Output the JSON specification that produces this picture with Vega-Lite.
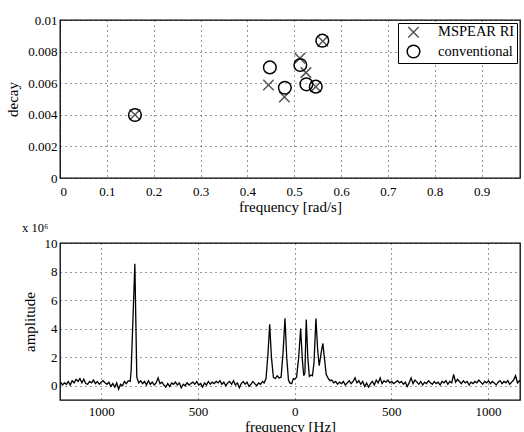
{
 "$schema": "https://vega.github.io/schema/vega-lite/v6.json",
 "padding": {"left": 5, "top": 13, "right": 0, "bottom": 0},
 "spacing": 5,
 "config": {
   "font": "Liberation Serif",
   "view": {"stroke": "black", "strokeWidth": 1.3},
   "axis": {"grid": true, "gridColor": "black", "gridDash": [1, 4], "gridOpacity": 0.8, "gridWidth": 1, "ticks": false, "domain": false, "labelFont": "Liberation Serif", "labelFontSize": 13, "labelColor": "black", "titleFont": "Liberation Serif", "titleFontSize": 15, "titleFontWeight": "normal", "titleColor": "black", "labelPadding": 4, "titlePadding": 1},
   "axisY": {"titlePadding": 7, "labelPadding": 3},
   "legend": {"labelFont": "Liberation Serif", "labelFontSize": 14.5, "labelColor": "black"}
 },
 "vconcat": [
  {
   "width": 460, "height": 158,
   "data": {"values": [
     {"method": "MSPEAR RI", "freq": 0.160, "decay": 0.00400},
     {"method": "MSPEAR RI", "freq": 0.445, "decay": 0.00589},
     {"method": "MSPEAR RI", "freq": 0.479, "decay": 0.00513},
     {"method": "MSPEAR RI", "freq": 0.512, "decay": 0.00758},
     {"method": "MSPEAR RI", "freq": 0.525, "decay": 0.00667},
     {"method": "MSPEAR RI", "freq": 0.546, "decay": 0.00578},
     {"method": "MSPEAR RI", "freq": 0.561, "decay": 0.00866},
     {"method": "conventional", "freq": 0.160, "decay": 0.00399},
     {"method": "conventional", "freq": 0.448, "decay": 0.00700},
     {"method": "conventional", "freq": 0.480, "decay": 0.00571},
     {"method": "conventional", "freq": 0.513, "decay": 0.00715},
     {"method": "conventional", "freq": 0.526, "decay": 0.00593},
     {"method": "conventional", "freq": 0.546, "decay": 0.00578},
     {"method": "conventional", "freq": 0.560, "decay": 0.00869}
   ]},
   "mark": {"type": "point", "filled": false, "strokeWidth": 1.5, "opacity": 1},
   "encoding": {
     "x": {"field": "freq", "type": "quantitative", "scale": {"domain": [0, 0.982], "nice": false, "zero": false},
           "axis": {"values": [0, 0.1, 0.2, 0.3, 0.4, 0.5, 0.6, 0.7, 0.8, 0.9], "format": ".1~f", "title": "frequency [rad/s]", "labelPadding": 7}},
     "y": {"field": "decay", "type": "quantitative", "scale": {"domain": [0, 0.01], "nice": false},
           "axis": {"values": [0, 0.002, 0.004, 0.006, 0.008, 0.01], "format": ".3~f", "title": "decay"}},
     "shape": {"field": "method", "type": "nominal", "scale": {"domain": ["MSPEAR RI", "conventional"], "range": ["M-1,-1L1,1M-1,1L1,-1", "circle"]},
               "legend": {"title": null, "orient": "top-right", "offset": 3, "strokeColor": "black", "fillColor": "white", "padding": 2, "rowPadding": 1, "symbolOffset": 6, "labelOffset": 17, "symbolStrokeWidth": 1.5}},
     "color": {"field": "method", "type": "nominal", "scale": {"domain": ["MSPEAR RI", "conventional"], "range": ["#555555", "#000000"]}},
     "size": {"field": "method", "type": "nominal", "scale": {"domain": ["MSPEAR RI", "conventional"], "range": [110, 160]}}
   }
  },
  {
   "width": 460, "height": 157,
   "title": {"text": "x 10⁶", "anchor": "start", "fontSize": 12.5, "fontWeight": "normal", "offset": 3, "font": "Liberation Serif", "color": "black"},
   "data": {"values": [
     {"f": -1210, "a": 0.25}, {"f": -1200, "a": 0.05}, {"f": -1190, "a": 0.2}, {"f": -1180, "a": 0.1}, {"f": -1170, "a": 0.3},
     {"f": -1160, "a": 0.05}, {"f": -1150, "a": 0.35}, {"f": -1140, "a": 0.2}, {"f": -1130, "a": 0.45}, {"f": -1120, "a": 0.3},
     {"f": -1110, "a": 0.5}, {"f": -1100, "a": 0.2}, {"f": -1090, "a": 0.45}, {"f": -1080, "a": 0.15}, {"f": -1070, "a": 0.1},
     {"f": -1060, "a": 0.3}, {"f": -1050, "a": 0.2}, {"f": -1040, "a": 0.4}, {"f": -1030, "a": 0.15}, {"f": -1020, "a": 0.3},
     {"f": -1010, "a": 0.1}, {"f": -1000, "a": 0.25}, {"f": -990, "a": 0.35}, {"f": -980, "a": 0.2}, {"f": -970, "a": 0.1},
     {"f": -960, "a": 0.25}, {"f": -950, "a": -0.05}, {"f": -940, "a": 0.15}, {"f": -930, "a": -0.1}, {"f": -920, "a": 0.2},
     {"f": -910, "a": -0.25}, {"f": -900, "a": 0.1}, {"f": -890, "a": 0.0}, {"f": -880, "a": 0.3}, {"f": -870, "a": 0.15},
     {"f": -860, "a": 0.35}, {"f": -850, "a": 0.3}, {"f": -845, "a": 1.1}, {"f": -826, "a": 8.55}, {"f": -816, "a": 0.6},
     {"f": -806, "a": 0.2}, {"f": -796, "a": 0.35}, {"f": -786, "a": 0.15}, {"f": -776, "a": 0.3}, {"f": -766, "a": 0.05},
     {"f": -756, "a": 0.35}, {"f": -746, "a": 0.1}, {"f": -736, "a": 0.25}, {"f": -726, "a": 0.05}, {"f": -716, "a": 0.2},
     {"f": -706, "a": 0.55}, {"f": -696, "a": 0.15}, {"f": -686, "a": 0.25}, {"f": -676, "a": 0.05}, {"f": -666, "a": -0.1},
     {"f": -656, "a": 0.15}, {"f": -646, "a": -0.05}, {"f": -636, "a": 0.2}, {"f": -626, "a": 0.1}, {"f": -616, "a": 0.25},
     {"f": -606, "a": 0.05}, {"f": -596, "a": 0.2}, {"f": -586, "a": -0.15}, {"f": -576, "a": 0.1}, {"f": -566, "a": 0.0},
     {"f": -556, "a": 0.2}, {"f": -546, "a": 0.05}, {"f": -536, "a": 0.15}, {"f": -526, "a": 0.25}, {"f": -516, "a": 0.1},
     {"f": -506, "a": 0.3}, {"f": -496, "a": 0.05}, {"f": -486, "a": 0.15}, {"f": -476, "a": -0.1}, {"f": -466, "a": 0.2},
     {"f": -456, "a": 0.05}, {"f": -446, "a": 0.3}, {"f": -436, "a": 0.1}, {"f": -426, "a": 0.25}, {"f": -416, "a": 0.15},
     {"f": -406, "a": 0.3}, {"f": -396, "a": 0.2}, {"f": -386, "a": 0.35}, {"f": -376, "a": 0.1}, {"f": -366, "a": 0.25},
     {"f": -356, "a": 0.0}, {"f": -346, "a": 0.2}, {"f": -336, "a": 0.3}, {"f": -326, "a": 0.1}, {"f": -316, "a": 0.35},
     {"f": -306, "a": 0.05}, {"f": -296, "a": 0.2}, {"f": -286, "a": -0.15}, {"f": -276, "a": 0.15}, {"f": -266, "a": 0.3},
     {"f": -256, "a": 0.1}, {"f": -246, "a": 0.25}, {"f": -236, "a": -0.05}, {"f": -226, "a": 0.1}, {"f": -216, "a": 0.3},
     {"f": -206, "a": 0.15}, {"f": -196, "a": 0.0}, {"f": -186, "a": 0.2}, {"f": -176, "a": 0.1}, {"f": -166, "a": 0.3},
     {"f": -158, "a": 0.2}, {"f": -148, "a": 0.5}, {"f": -138, "a": 2.2}, {"f": -129, "a": 4.3}, {"f": -120, "a": 2.0},
     {"f": -110, "a": 0.6}, {"f": -100, "a": 0.5}, {"f": -90, "a": 0.7}, {"f": -80, "a": 0.55}, {"f": -70, "a": 0.6},
     {"f": -60, "a": 2.3}, {"f": -50, "a": 4.72}, {"f": -41, "a": 2.0}, {"f": -32, "a": 0.4}, {"f": -25, "a": 0.2},
     {"f": -15, "a": 0.15}, {"f": -7, "a": 0.5}, {"f": 0, "a": 0.45}, {"f": 10, "a": 0.6}, {"f": 21, "a": 2.0},
     {"f": 31, "a": 4.0}, {"f": 40, "a": 1.8}, {"f": 47, "a": 0.7}, {"f": 53, "a": 0.9}, {"f": 60, "a": 4.64},
     {"f": 68, "a": 2.0}, {"f": 76, "a": 0.65}, {"f": 85, "a": 0.75}, {"f": 92, "a": 0.7}, {"f": 100, "a": 1.6},
     {"f": 110, "a": 4.7}, {"f": 119, "a": 2.5}, {"f": 127, "a": 1.4}, {"f": 137, "a": 2.3}, {"f": 146, "a": 2.96},
     {"f": 155, "a": 1.8}, {"f": 163, "a": 0.8}, {"f": 172, "a": 0.55}, {"f": 182, "a": 0.35}, {"f": 192, "a": 0.4},
     {"f": 202, "a": 0.2}, {"f": 212, "a": 0.3}, {"f": 222, "a": 0.1}, {"f": 232, "a": 0.25}, {"f": 242, "a": 0.15},
     {"f": 252, "a": 0.3}, {"f": 262, "a": 0.05}, {"f": 272, "a": 0.2}, {"f": 282, "a": 0.35}, {"f": 292, "a": 0.15},
     {"f": 302, "a": 0.3}, {"f": 312, "a": 0.55}, {"f": 322, "a": 0.2}, {"f": 332, "a": 0.35}, {"f": 342, "a": 0.1},
     {"f": 352, "a": 0.3}, {"f": 362, "a": -0.05}, {"f": 372, "a": 0.2}, {"f": 382, "a": -0.1}, {"f": 392, "a": 0.15},
     {"f": 402, "a": 0.3}, {"f": 412, "a": 0.05}, {"f": 422, "a": 0.4}, {"f": 432, "a": 0.2}, {"f": 442, "a": 0.55},
     {"f": 452, "a": 0.15}, {"f": 462, "a": 0.35}, {"f": 472, "a": 0.25}, {"f": 482, "a": 0.4}, {"f": 492, "a": 0.2},
     {"f": 502, "a": 0.3}, {"f": 512, "a": 0.15}, {"f": 522, "a": 0.25}, {"f": 532, "a": 0.35}, {"f": 542, "a": 0.2},
     {"f": 552, "a": 0.3}, {"f": 562, "a": 0.1}, {"f": 572, "a": 0.25}, {"f": 582, "a": -0.05}, {"f": 592, "a": 0.2},
     {"f": 602, "a": 0.55}, {"f": 612, "a": 0.15}, {"f": 622, "a": 0.4}, {"f": 632, "a": 0.25}, {"f": 642, "a": 0.1},
     {"f": 652, "a": 0.3}, {"f": 662, "a": 0.05}, {"f": 672, "a": 0.25}, {"f": 682, "a": 0.15}, {"f": 692, "a": 0.35},
     {"f": 702, "a": 0.2}, {"f": 712, "a": 0.1}, {"f": 722, "a": 0.3}, {"f": 732, "a": 0.15}, {"f": 742, "a": 0.25},
     {"f": 752, "a": 0.05}, {"f": 762, "a": 0.3}, {"f": 772, "a": 0.2}, {"f": 782, "a": 0.35}, {"f": 792, "a": 0.1},
     {"f": 802, "a": 0.3}, {"f": 812, "a": 0.2}, {"f": 822, "a": 0.8}, {"f": 832, "a": 0.25}, {"f": 842, "a": 0.45},
     {"f": 852, "a": 0.3}, {"f": 862, "a": 0.15}, {"f": 872, "a": 0.35}, {"f": 882, "a": 0.2}, {"f": 892, "a": 0.3},
     {"f": 902, "a": 0.05}, {"f": 912, "a": 0.25}, {"f": 922, "a": 0.15}, {"f": 932, "a": 0.3}, {"f": 942, "a": 0.2},
     {"f": 952, "a": 0.4}, {"f": 962, "a": 0.25}, {"f": 972, "a": 0.1}, {"f": 982, "a": 0.3}, {"f": 992, "a": 0.2},
     {"f": 1002, "a": 0.35}, {"f": 1012, "a": 0.15}, {"f": 1022, "a": 0.3}, {"f": 1032, "a": 0.2}, {"f": 1042, "a": 0.05},
     {"f": 1052, "a": 0.25}, {"f": 1062, "a": 0.35}, {"f": 1072, "a": 0.15}, {"f": 1082, "a": 0.3}, {"f": 1092, "a": 0.2},
     {"f": 1102, "a": 0.35}, {"f": 1112, "a": 0.1}, {"f": 1122, "a": 0.25}, {"f": 1132, "a": 0.4}, {"f": 1142, "a": 0.7},
     {"f": 1152, "a": 0.2}, {"f": 1162, "a": 0.35}, {"f": 1170, "a": 0.25}
   ]},
   "mark": {"type": "line", "color": "black", "strokeWidth": 1.3, "clip": true},
   "encoding": {
     "x": {"field": "f", "type": "quantitative", "scale": {"domain": [-1213, 1165], "nice": false, "zero": false},
           "axis": {"values": [-1000, -500, 0, 500, 1000], "labelExpr": "format(abs(datum.value), 'd')", "title": "frequency [Hz]", "labelPadding": 5}},
     "y": {"field": "a", "type": "quantitative", "scale": {"domain": [-1, 10], "nice": false},
           "axis": {"values": [0, 2, 4, 6, 8, 10], "title": "amplitude"}}
   }
  }
 ]
}
